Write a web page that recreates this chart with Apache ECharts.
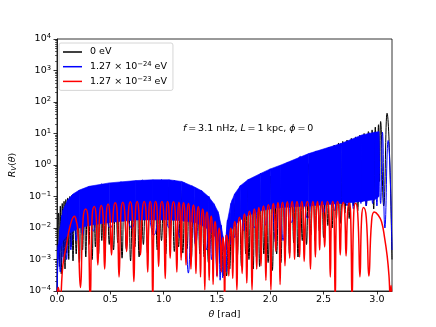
<!DOCTYPE html>
<html>
<head>
<meta charset="utf-8">
<script src="https://cdn.jsdelivr.net/npm/echarts@6/dist/echarts.min.js"></script>
<style>
  html, body { margin: 0; padding: 0; background: #fff; }
  #chart { width: 436px; height: 327px; }
</style>
</head>
<body>
<div id="chart"></div>
<script>
// theta [rad], R_V(theta) - peaks, dips and lobe shoulders
var black = [
  [0, 5e-5], [0.008, 5e-3], [0.015, 0.03], [0.022, 6e-4], [0.031, 0.05], [0.04, 3.5e-4], [0.049, 0.06], [0.058, 1.2e-3],
  [0.066, 0.07], [0.075, 5e-4], [0.083, 0.08], [0.09, 1.6e-3], [0.1, 0.09], [0.11, 1e-3], [0.12, 0.1], [0.13, 2.5e-3],
  [0.14, 0.11], [0.15, 9e-4], [0.165, 0.12], [0.18, 1.5e-3], [0.195, 0.14], [0.21, 8e-4], [0.225, 0.15], [0.24, 2e-3],
  [0.255, 0.16], [0.27, 1.2e-3], [0.285, 0.17], [0.3, 3e-3], [0.315, 0.18], [0.33, 1e-3], [0.345, 0.18], [0.36, 2.5e-3],
  [0.375, 0.19], [0.39, 1.5e-3], [0.405, 0.2], [0.42, 4e-3], [0.435, 0.2], [0.45, 1.8e-3], [0.47, 0.2], [0.49, 3e-3],
  [0.51, 0.2], [0.53, 2e-3], [0.55, 0.2], [0.57, 3.4e-3], [0.59, 0.2], [0.61, 1.1e-3], [0.63, 0.2], [0.65, 2.2e-3],
  [0.67, 0.2], [0.69, 9e-4], [0.71, 0.2], [0.73, 2.5e-3], [0.75, 0.2], [0.77, 1.2e-3], [0.79, 0.2], [0.81, 3e-3],
  [0.83, 0.2], [0.85, 1.5e-3], [0.875, 0.2], [0.9, 6e-3], [0.92, 0.2], [0.94, 2e-3], [0.96, 0.2], [0.98, 4e-3],
  [1.0, 0.2], [1.02, 1.5e-3], [1.04, 0.2], [1.06, 3e-3], [1.08, 0.2], [1.1, 1.8e-3], [1.12, 0.18], [1.14, 2.5e-3],
  [1.16, 0.16], [1.18, 1.6e-3], [1.2, 0.14], [1.22, 2.2e-3], [1.24, 0.12], [1.26, 1.1e-3], [1.28, 0.1], [1.3, 2.5e-3],
  [1.32, 0.09], [1.34, 1.5e-3], [1.36, 0.08], [1.38, 1.2e-3], [1.4, 0.07], [1.42, 8e-4], [1.44, 0.05], [1.46, 1.5e-3],
  [1.48, 0.03], [1.5, 5e-4], [1.515, 0.015], [1.53, 8e-4], [1.545, 6e-3], [1.56, 3e-4], [1.572, 1.5e-3], [1.59, 3e-4],
  [1.605, 8e-3], [1.62, 5e-4], [1.635, 0.03], [1.65, 8e-4], [1.67, 0.06], [1.69, 1.2e-3], [1.71, 0.1], [1.73, 6e-4],
  [1.75, 0.15], [1.77, 1.5e-3], [1.785, 0.2], [1.8, 1e-3], [1.82, 0.25], [1.84, 5e-4], [1.855, 0.3], [1.87, 1.2e-3],
  [1.885, 0.3], [1.9, 6e-4], [1.92, 0.35], [1.94, 1.5e-3], [1.96, 0.4], [1.98, 8e-4], [2.0, 0.45], [2.02, 4.5e-4],
  [2.04, 0.5], [2.06, 1.5e-3], [2.08, 0.55], [2.1, 8e-4], [2.12, 0.6], [2.14, 2e-3], [2.16, 0.65], [2.18, 1.5e-3],
  [2.2, 0.7], [2.22, 3.4e-3], [2.24, 0.8], [2.26, 1.2e-3], [2.28, 0.9], [2.3, 4e-3], [2.32, 1.0], [2.34, 3e-3],
  [2.36, 1.1], [2.38, 6e-3], [2.4, 1.2], [2.42, 4e-3], [2.44, 1.3], [2.46, 8e-3], [2.48, 1.5], [2.5, 5e-3],
  [2.52, 3.2], [2.54, 0.012], [2.56, 3.7], [2.58, 0.01], [2.6, 4.3], [2.62, 0.02], [2.64, 5.0], [2.66, 0.014],
  [2.68, 5.6], [2.7, 0.03], [2.72, 6.2], [2.74, 0.02], [2.76, 7], [2.78, 0.05], [2.8, 7.8], [2.82, 0.035],
  [2.84, 8.8], [2.86, 0.07], [2.88, 10], [2.9, 0.05], [2.92, 11.5], [2.94, 0.1], [2.955, 13], [2.97, 0.04],
  [2.985, 16], [3.0, 0.15], [3.015, 19], [3.025, 0.3], [3.035, 24], [3.064, 0.05], [3.095, 44], [3.1416, 1e-3]
];

var blue = [
  [0, 5e-5], [0.012, 3e-3], [0.03, 4e-4], [0.045, 0.025], [0.06, 8e-4], [0.075, 0.05], [0.09, 1e-3], [0.11, 0.08],
  [0.13, 2e-3], [0.155, 0.12], [0.18, 4e-3], [0.21, 0.16], [0.24, 6e-3], [0.29, 0.2], [0.34, 8e-3], [0.42, 0.25],
  [0.5, 0.01], [0.6, 0.29], [0.7, 0.01], [0.8, 0.33], [0.91, 6e-3], [0.98, 0.34], [1.05, 0.01], [1.1, 0.33],
  [1.15, 5e-3], [1.19, 0.28], [1.232, 3.7e-4], [1.265, 0.22], [1.3, 3e-3], [1.35, 0.16], [1.4, 2e-3], [1.425, 0.1],
  [1.45, 1e-3], [1.475, 0.055], [1.5, 3e-4], [1.515, 0.028], [1.53, 2.2e-4], [1.54, 0.012], [1.555, 2.6e-4], [1.572, 2e-3],
  [1.585, 4e-4], [1.6, 0.018], [1.625, 3e-3], [1.645, 0.08], [1.665, 5e-3], [1.72, 0.22], [1.75, 8e-3], [1.8, 0.35],
  [1.85, 0.01], [1.91, 0.54], [1.96, 0.012], [2.0, 0.75], [2.05, 3.4e-3], [2.08, 0.9], [2.12, 4e-3], [2.16, 1.2],
  [2.2, 0.015], [2.28, 1.9], [2.35, 0.02], [2.43, 2.8], [2.5, 0.03], [2.55, 3.7], [2.6, 0.035], [2.66, 4.8],
  [2.72, 0.05], [2.75, 5.5], [2.78, 0.04], [2.815, 7], [2.85, 0.06], [2.87, 9], [2.9, 0.05], [2.93, 10.5],
  [2.96, 0.06], [2.98, 11], [3.0, 0.05], [3.015, 11.4], [3.035, 0.06], [3.052, 11], [3.075, 0.01], [3.105, 6],
  [3.1416, 2e-3]
];

// one row per lobe: dip, rising shoulder, peak, falling shoulder
var red = [
  [0, 8e-5], [0.012, 1.3e-4], [0.028, 5e-5], [0.056, 7e-4], [0.087, 2.6e-3], [0.124, 0.012], [0.164, 0.0236], [0.18, 0.017], [0.195, 0.0087],
  [0.22, 1.3e-4], [0.245, 0.02], [0.269, 0.04], [0.29, 0.02],
  [0.311, 5e-5], [0.33, 0.024], [0.35, 0.048], [0.367, 0.024],
  [0.383, 6.7e-4], [0.399, 0.026], [0.415, 0.052], [0.431, 0.026],
  [0.447, 5e-4], [0.463, 0.029], [0.479, 0.058], [0.495, 0.029],
  [0.511, 1.4e-3], [0.528, 0.032], [0.546, 0.063], [0.564, 0.032],
  [0.582, 2.8e-4], [0.6, 0.033], [0.617, 0.066], [0.635, 0.033],
  [0.653, 1.8e-3], [0.67, 0.034], [0.687, 0.068], [0.704, 0.034],
  [0.721, 2e-4], [0.736, 0.035], [0.752, 0.07], [0.767, 0.035],
  [0.783, 1.4e-3], [0.8, 0.035], [0.817, 0.07], [0.834, 0.035],
  [0.851, 4e-4], [0.862, 0.035], [0.874, 0.07], [0.886, 0.035],
  [0.898, 5e-5], [0.911, 0.035], [0.925, 0.07], [0.939, 0.035],
  [0.953, 6e-4], [0.968, 0.035], [0.984, 0.07], [0.999, 0.035],
  [1.015, 2.5e-4], [1.026, 0.035], [1.038, 0.069], [1.05, 0.035],
  [1.061, 1.1e-3], [1.076, 0.034], [1.092, 0.068], [1.108, 0.034],
  [1.124, 4e-4], [1.134, 0.033], [1.144, 0.066], [1.154, 0.033],
  [1.164, 9.5e-4], [1.175, 0.032], [1.187, 0.063], [1.198, 0.032],
  [1.21, 6.7e-4], [1.221, 0.03], [1.233, 0.06], [1.244, 0.03],
  [1.256, 5e-4], [1.268, 0.027], [1.28, 0.054], [1.291, 0.027],
  [1.303, 3.6e-4], [1.314, 0.024], [1.325, 0.047], [1.335, 0.024],
  [1.346, 2.8e-4], [1.356, 0.02], [1.366, 0.04], [1.376, 0.02],
  [1.386, 1.1e-4], [1.396, 0.016], [1.407, 0.032], [1.417, 0.016],
  [1.427, 2.2e-4], [1.436, 0.012], [1.446, 0.024], [1.455, 0.012],
  [1.464, 1.6e-4], [1.473, 8e-3], [1.483, 0.016], [1.492, 8e-3],
  [1.501, 2.8e-4], [1.511, 5e-3], [1.521, 0.01], [1.531, 5e-3],
  [1.541, 4e-4], [1.548, 2.5e-3], [1.556, 5e-3], [1.564, 2.5e-3],
  [1.572, 5e-5], [1.581, 3e-3], [1.591, 6e-3], [1.601, 3e-3],
  [1.611, 3e-4], [1.62, 5e-3], [1.63, 0.01], [1.639, 5e-3],
  [1.648, 2.5e-4], [1.657, 8e-3], [1.667, 0.016], [1.677, 8e-3],
  [1.687, 1.1e-4], [1.699, 0.011], [1.711, 0.022], [1.723, 0.011],
  [1.736, 3.6e-4], [1.747, 0.014], [1.758, 0.028], [1.769, 0.014],
  [1.78, 1.8e-4], [1.792, 0.017], [1.805, 0.034], [1.817, 0.017],
  [1.829, 1.1e-4], [1.84, 0.02], [1.851, 0.04], [1.862, 0.02],
  [1.873, 5e-4], [1.883, 0.022], [1.893, 0.045], [1.903, 0.022],
  [1.913, 6.3e-4], [1.924, 0.025], [1.936, 0.05], [1.947, 0.025],
  [1.959, 2.2e-4], [1.97, 0.027], [1.982, 0.055], [1.994, 0.027],
  [2.006, 1.1e-4], [2.017, 0.03], [2.029, 0.06], [2.04, 0.03],
  [2.052, 1.8e-3], [2.062, 0.032], [2.072, 0.063], [2.082, 0.032],
  [2.092, 1.6e-4], [2.103, 0.033], [2.115, 0.066], [2.126, 0.033],
  [2.138, 6.3e-4], [2.149, 0.034], [2.16, 0.068], [2.171, 0.034],
  [2.182, 1.1e-3], [2.193, 0.035], [2.205, 0.069], [2.216, 0.035],
  [2.228, 1e-3], [2.239, 0.035], [2.251, 0.07], [2.263, 0.035],
  [2.275, 1.2e-3], [2.285, 0.035], [2.296, 0.07], [2.307, 0.035],
  [2.318, 8.7e-4], [2.332, 0.035], [2.347, 0.07], [2.362, 0.035],
  [2.377, 5e-4], [2.388, 0.035], [2.4, 0.07], [2.411, 0.035],
  [2.423, 1.2e-3], [2.433, 0.035], [2.443, 0.07], [2.453, 0.035],
  [2.463, 2e-3], [2.474, 0.035], [2.486, 0.07], [2.498, 0.035],
  [2.51, 2.5e-3], [2.523, 0.035], [2.536, 0.07], [2.55, 0.035],
  [2.563, 2.8e-4], [2.574, 0.035], [2.586, 0.07], [2.597, 0.035],
  [2.609, 5e-5], [2.62, 0.035], [2.632, 0.069], [2.644, 0.035],
  [2.656, 1.4e-3], [2.67, 0.033], [2.685, 0.066], [2.698, 0.033],
  [2.711, 1.3e-3], [2.725, 0.031], [2.739, 0.062], [2.753, 0.031],
  [2.767, 5e-5], [2.783, 0.03], [2.8, 0.061], [2.82, 0.03],
  [2.841, 2.8e-4], [2.857, 0.022], [2.874, 0.045], [2.9, 0.022],
  [2.925, 3e-4], [2.95, 0.016], [2.975, 0.032], [3.011, 0.026], [3.043, 0.016], [3.073, 4.7e-3], [3.095, 1.4e-3], [3.113, 3.2e-4],
  [3.126, 5e-5], [3.133, 1.5e-4], [3.1416, 5e-5]
];

// dense blue oscillation, drawn as a filled band between its top and the lower edge of the solid part
var bandX   = [0, 0.01, 0.025, 0.056, 0.1, 0.15, 0.21, 0.3, 0.49, 0.74, 0.9, 1.05, 1.17, 1.29, 1.36, 1.42, 1.47, 1.51, 1.54, 1.557, 1.572, 1.585, 1.6, 1.63, 1.665, 1.72, 1.79, 1.91, 2.0, 2.1, 2.36, 2.67, 2.86, 2.98, 3.02];
var bandTop = [1e-4, 2e-3, 8.7e-3, 0.037, 0.077, 0.12, 0.16, 0.21, 0.27, 0.32, 0.34, 0.34, 0.3, 0.2, 0.15, 0.1, 0.06, 0.033, 0.012, 5.4e-3, 2e-3, 6e-3, 0.018, 0.06, 0.12, 0.22, 0.34, 0.54, 0.75, 1.0, 2.3, 4.9, 9, 11, 11.4];
var bandLow = [1e-4, 1e-3, 2e-3, 4e-3, 6e-3, 8e-3, 0.01, 0.012, 0.015, 0.018, 0.018, 0.018, 0.017, 0.015, 0.012, 9e-3, 6e-3, 4e-3, 3e-3, 2e-3, 1.5e-3, 2e-3, 4e-3, 8e-3, 0.012, 0.018, 0.025, 0.035, 0.04, 0.045, 0.05, 0.06, 0.07, 0.08, 0.1];

var xTicks = [0, 0.5, 1.0, 1.5, 2.0, 2.5, 3.0];
var yTicks = [1e-4, 1e-3, 1e-2, 1e-1, 1, 10, 100, 1000, 10000];
var seriesNames = ['0 eV', '1.27e-24 eV', '1.27e-23 eV'];
var legendLabels = {
  '0 eV': '0 eV',
  '1.27e-24 eV': '1.27 × 10{s|−24} eV',
  '1.27e-23 eV': '1.27 × 10{s|−23} eV'
};

var yMinor = [];
for (var e = -4; e < 4; e++) {
  for (var k = 2; k <= 9; k++) yMinor.push(k * Math.pow(10, e));
}

var bandData = [];
for (var i = 0; i < bandX.length - 1; i++) {
  bandData.push([bandX[i], bandTop[i], bandLow[i], bandX[i + 1], bandTop[i + 1], bandLow[i + 1]]);
}

var FONT = 'DejaVu Sans';
var FS = 9.5;
var supStyle = { fontSize: 6.8, fontFamily: FONT, color: '#000', verticalAlign: 'top', lineHeight: 8 };

function expLabel(v) {
  var n = Math.round(Math.log10(v));
  return '{b|10}{s|' + (n < 0 ? '−' + (-n) : n) + '}';
}

var chart = echarts.init(document.getElementById('chart'));
chart.setOption({
  animation: false,
  backgroundColor: '#fff',
  textStyle: { fontFamily: FONT },
  grid: { left: 54, right: 44, top: 39, bottom: 36, show: true, borderColor: '#000', borderWidth: 0.8 },
  legend: {
    data: seriesNames,
    orient: 'vertical',
    left: 59, top: 43,
    icon: 'rect',
    itemWidth: 19, itemHeight: 1.5,
    itemGap: 2.7,
    padding: [3, 6, 3, 4],
    borderColor: '#cccccc', borderWidth: 0.8, borderRadius: 2,
    backgroundColor: 'rgba(255,255,255,0.8)',
    formatter: function (name) { return legendLabels[name]; },
    textStyle: {
      fontFamily: FONT, fontSize: FS, color: '#000', lineHeight: 12, padding: [0, 0, 0, 3],
      rich: { s: supStyle }
    }
  },
  xAxis: {
    type: 'value', min: 0, max: Math.PI,
    name: '{i|θ} [rad]', nameLocation: 'middle', nameGap: 18,
    nameTextStyle: { fontFamily: FONT, fontSize: FS, color: '#000', rich: { i: { fontStyle: 'italic', fontFamily: FONT, fontSize: FS } } },
    axisLine: { lineStyle: { color: '#000', width: 0.8 } },
    axisTick: { customValues: xTicks, length: 3.5, lineStyle: { color: '#000', width: 0.8 } },
    axisLabel: { customValues: xTicks, margin: 4, color: '#000', fontFamily: FONT, fontSize: FS,
      formatter: function (v) { return v.toFixed(1); } },
    splitLine: { show: false }
  },
  yAxis: [{
    type: 'log', logBase: 10, min: 1e-4, max: 1e4,
    name: '{i|R}{sub|V}({i|θ})', nameLocation: 'middle', nameGap: 28, nameRotate: 90,
    nameTextStyle: { fontFamily: FONT, fontSize: FS, color: '#000', rich: {
      i: { fontStyle: 'italic', fontFamily: FONT, fontSize: FS },
      sub: { fontStyle: 'italic', fontFamily: FONT, fontSize: 6.8, verticalAlign: 'bottom', lineHeight: 9 }
    } },
    axisLine: { lineStyle: { color: '#000', width: 0.8 } },
    axisTick: { customValues: yTicks, length: 3.5, lineStyle: { color: '#000', width: 0.8 } },
    axisLabel: { customValues: yTicks, margin: 6, color: '#000', formatter: expLabel,
      rich: { b: { fontSize: FS, fontFamily: FONT, color: '#000', lineHeight: 12 }, s: supStyle } },
    splitLine: { show: false }
  }, {
    type: 'log', logBase: 10, min: 1e-4, max: 1e4, position: 'left',
    axisLine: { show: false },
    axisTick: { customValues: yMinor, length: 2, lineStyle: { color: '#000', width: 0.6 } },
    axisLabel: { show: false },
    splitLine: { show: false }
  }],
  graphic: [{
    type: 'text', left: 183, top: 124, z: 10,
    style: {
      text: '{i|f}\u2009=\u20093.1 nHz, {i|L}\u2009=\u20091 kpc, {i|ϕ}\u2009=\u20090',
      font: FS + 'px "' + FONT + '"', fill: '#000',
      rich: { i: { fontStyle: 'italic', fontFamily: FONT, fontSize: FS } }
    }
  }],
  series: [
    { name: seriesNames[0], type: 'line', data: black, z: 2, smooth: 0.5, symbol: 'none', showSymbol: false,
      color: '#000000', lineStyle: { color: '#000000', width: 1 } },
    { name: 'band', type: 'custom', z: 3, silent: true, clip: true,
      encode: { x: [0, 3], y: [1, 2, 4, 5] }, data: bandData,
      renderItem: function (params, api) {
        var a = api.coord([api.value(0), api.value(1)]);
        var b = api.coord([api.value(3), api.value(4)]);
        var c = api.coord([api.value(3), api.value(5)]);
        var d = api.coord([api.value(0), api.value(2)]);
        return { type: 'polygon', shape: { points: [a, b, c, d] },
          style: { fill: '#0000ff', stroke: '#0000ff', lineWidth: 0.6 } };
      } },
    { name: seriesNames[1], type: 'line', data: blue, z: 4, smooth: 0.5, symbol: 'none', showSymbol: false,
      color: '#0000ff', lineStyle: { color: '#0000ff', width: 1 } },
    { name: seriesNames[2], type: 'line', data: red, z: 5, smooth: 0.5, symbol: 'none', showSymbol: false,
      color: '#ff0000', lineStyle: { color: '#ff0000', width: 1.5 } }
  ]
});
</script>
</body>
</html>
